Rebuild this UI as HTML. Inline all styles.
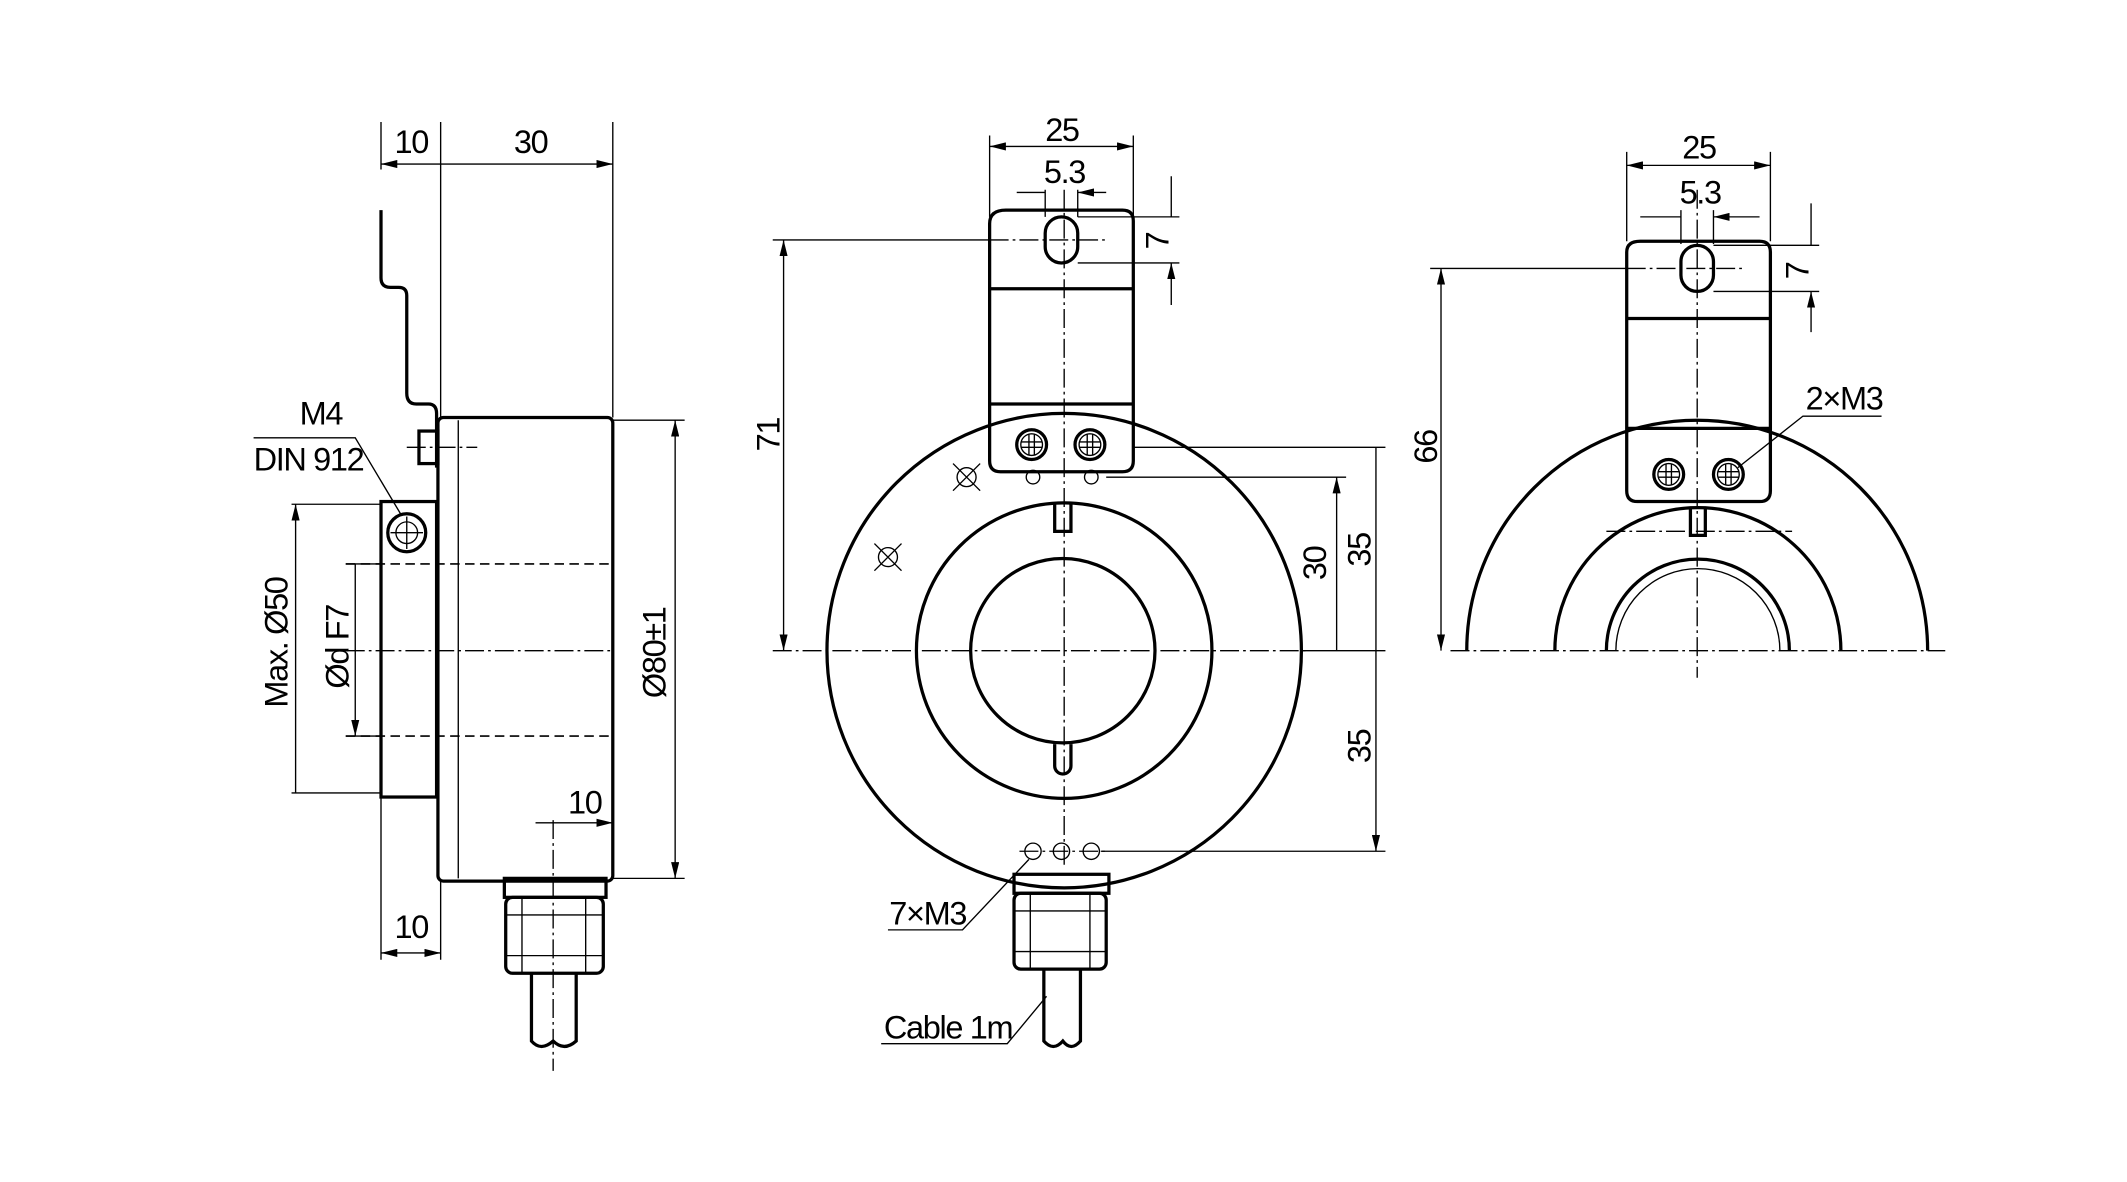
<!DOCTYPE html>
<html><head><meta charset="utf-8"><style>
html,body{margin:0;padding:0;background:#fff}
svg{display:block}
text{font-family:"Liberation Sans Narrow","Liberation Sans",sans-serif;font-size:24px;letter-spacing:-1px;fill:#000}
.t{stroke:#000;stroke-width:2.4;fill:none}
.n{stroke:#000;stroke-width:1;fill:none}
.c{stroke:#000;stroke-width:1;fill:none;stroke-dasharray:14 3 2 3}
.d{stroke:#000;stroke-width:1.2;fill:none;stroke-dasharray:7 4}
</style></head><body>
<svg width="2127" height="1182" viewBox="0 0 1569 872" xmlns="http://www.w3.org/2000/svg">
<defs>
<marker id="a" viewBox="0 0 12 6" refX="12" refY="3" markerWidth="12" markerHeight="6" orient="auto-start-reverse" markerUnits="userSpaceOnUse"><path d="M0,0L12,3L0,6z" fill="#000"/></marker>
<g id="scr"><circle r="11" class="t"/><circle r="8" class="n"/><path d="M-2,-8V8M2,-8V8M-8,-2H8M-8,2H8" class="n"/></g>
</defs>

<!-- LEFT VIEW -->
<path class="n" d="M281,90V125M325,90V308M452,90V308"/>
<path class="n" d="M281,121H325M325,121H452" marker-end="url(#a)" marker-start="url(#a)"/>
<text x="291" y="113">10</text><text x="379" y="113">30</text>
<path class="t" d="M281,155V205Q281,212 288,212H294Q300,212 300,218V290Q300,298 307,298H316Q322,298 322,305V345"/>
<rect class="t" x="323" y="308" width="129" height="342" rx="4"/>
<path class="n" d="M338,310V648"/>
<rect class="t" x="309" y="318" width="14" height="24"/>
<path class="c" d="M300,330H352"/>
<rect class="t" x="281" y="370" width="41" height="218"/>
<circle class="t" cx="300" cy="393" r="14"/><circle class="n" cx="300" cy="393" r="8"/>
<path class="n" d="M288,393H312M300,381V405"/>
<path class="d" d="M255,416H452M255,543H452"/>
<path class="c" d="M255,480H452"/>
<path class="n" d="M215,372H281M215,585H281M255,416H281M255,543H281"/>
<path class="n" d="M218,372V585M262,416V543" marker-end="url(#a)" marker-start="url(#a)"/>
<text transform="translate(212,522) rotate(-90)">Max. Ø50</text>
<text transform="translate(257,508) rotate(-90)">Ød F7</text>
<path class="n" d="M452,310H505M452,648H505"/>
<path class="n" d="M498,310V648" marker-end="url(#a)" marker-start="url(#a)"/>
<text transform="translate(491,515) rotate(-90)">Ø80±1</text>
<path class="n" d="M187,323H262L296,380"/>
<text x="221" y="313">M4</text><text x="187" y="347">DIN 912</text>
<rect class="t" x="372" y="648" width="75" height="14"/>
<rect class="t" x="373" y="662" width="72" height="56" rx="5"/>
<path class="n" d="M385,662V718M432,662V718M373,675H445M373,705H445"/>
<path class="t" d="M392,718V768Q399,776 408,768Q416,776 425,768V718"/>
<path class="c" d="M408,605V790"/>
<path class="n" d="M408,607H452" marker-end="url(#a)"/>
<path class="n" d="M395,607H408"/>
<text x="419" y="600">10</text>
<path class="n" d="M281,588V708M325,650V708"/>
<path class="n" d="M281,703H325" marker-end="url(#a)" marker-start="url(#a)"/>
<text x="291" y="692">10</text>

<!-- MIDDLE VIEW -->
<circle class="t" cx="785" cy="480" r="175"/>
<circle class="t" cx="785" cy="480" r="109"/>
<circle class="t" cx="784" cy="480" r="68"/>
<path class="c" d="M570,480H965M785,140V640"/>
<path class="t" d="M778,372V392H790V372M778,549V565A6,6 0 0 0 790,565V549"/>
<path class="t" d="M742,155H828Q836,155 836,163V340Q836,348 828,348H738Q730,348 730,340V165Q730,155 742,155Z" fill="#fff"/>
<path class="t" d="M730,213H836M730,298H836"/>
<rect class="t" x="771" y="160" width="24" height="34" rx="12"/>
<path class="c" d="M730,177H816"/>
<use href="#scr" x="761" y="328"/><use href="#scr" x="804" y="328"/>
<circle class="n" cx="762" cy="352" r="5"/><circle class="n" cx="805" cy="352" r="5"/>
<circle class="n" cx="713" cy="352" r="7"/><path class="n" d="M703,342L723,362M723,342L703,362"/>
<circle class="n" cx="655" cy="411" r="7"/><path class="n" d="M645,401L665,421M665,401L645,421"/>
<path class="n" d="M730,100V160M836,100V160"/>
<path class="n" d="M730,108H836" marker-end="url(#a)" marker-start="url(#a)"/>
<text x="771" y="104">25</text>
<path class="n" d="M771,140V160M795,140V160"/>
<path class="n" d="M750,142H771M816,142H795" marker-end="url(#a)"/>
<text x="770" y="135">5.3</text>
<path class="n" d="M795,160H870M795,194H870"/>
<path class="n" d="M864,130V160M864,225V194" marker-end="url(#a)"/>
<text transform="translate(862,184) rotate(-90)">7</text>
<path class="n" d="M570,177H730"/>
<path class="n" d="M578,177V480" marker-end="url(#a)" marker-start="url(#a)"/>
<text transform="translate(575,333) rotate(-90)">71</text>
<path class="n" d="M836,330H1022M816,352H993M960,480H1022M812,628H1022"/>
<path class="n" d="M986,352V480M1015,330V480M1015,480V628" marker-end="url(#a)" marker-start="url(#a)"/>
<text transform="translate(978,428) rotate(-90)">30</text>
<text transform="translate(1011,418) rotate(-90)">35</text>
<text transform="translate(1011,563) rotate(-90)">35</text>
<circle class="n" cx="762" cy="628" r="6"/><circle class="n" cx="783" cy="628" r="6"/><circle class="n" cx="805" cy="628" r="6"/>
<path class="c" d="M752,628H815"/>
<path class="n" d="M655,686H710L759,634"/>
<text x="656" y="682">7×M3</text>
<rect class="t" x="748" y="645" width="70" height="14" fill="#fff"/>
<rect class="t" x="748" y="659" width="68" height="56" rx="5"/>
<path class="n" d="M760,659V715M804,659V715M748,672H816M748,702H816"/>
<path class="t" d="M770,715V768Q777,776 784,768Q790,776 797,768V715"/>
<path class="n" d="M650,770H743L772,735"/>
<text x="652" y="766">Cable 1m</text>

<!-- RIGHT VIEW -->
<path class="t" d="M1082,480A170,170 0 0 1 1422,480M1147,480A105,105 0 0 1 1358,480M1185,480A67,67 0 0 1 1320,480"/>
<path class="n" d="M1192,480A60,60 0 0 1 1313,480"/>
<path class="c" d="M1070,480H1435M1252,140V500M1185,392H1322"/>
<path class="t" d="M1247,375V395H1258V375"/>
<path class="t" d="M1210,178H1298Q1306,178 1306,186V362Q1306,370 1298,370H1208Q1200,370 1200,362V186Q1200,178 1210,178Z" fill="#fff"/>
<path class="t" d="M1200,235H1306M1200,316H1306"/>
<rect class="t" x="1240" y="181" width="24" height="34" rx="12"/>
<path class="c" d="M1200,198H1285"/>
<use href="#scr" x="1231" y="350"/><use href="#scr" x="1275" y="350"/>
<path class="n" d="M1200,112V178M1306,112V178"/>
<path class="n" d="M1200,122H1306" marker-end="url(#a)" marker-start="url(#a)"/>
<text x="1241" y="117">25</text>
<path class="n" d="M1240,155V180M1264,155V180"/>
<path class="n" d="M1210,160H1240M1298,160H1264" marker-end="url(#a)"/>
<text x="1239" y="150">5.3</text>
<path class="n" d="M1264,181H1342M1264,215H1342"/>
<path class="n" d="M1336,150V181M1336,245V215" marker-end="url(#a)"/>
<text transform="translate(1334,206) rotate(-90)">7</text>
<path class="n" d="M1055,198H1200"/>
<path class="n" d="M1063,198V480" marker-end="url(#a)" marker-start="url(#a)"/>
<text transform="translate(1060,342) rotate(-90)">66</text>
<path class="n" d="M1388,307H1330L1282,345"/>
<text x="1332" y="302">2×M3</text>
</svg>
</body></html>
